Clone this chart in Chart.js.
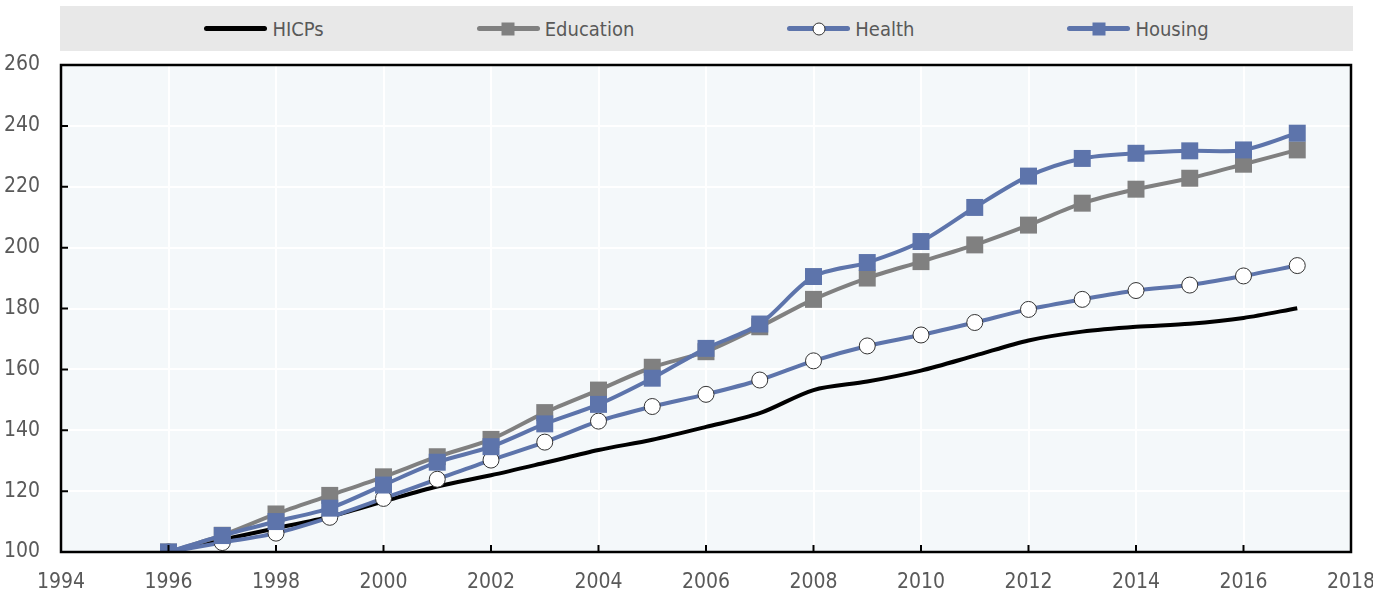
<!DOCTYPE html>
<html>
<head>
<meta charset="utf-8">
<script src="https://cdn.jsdelivr.net/npm/chart.js@4"></script>
<style>
  html, body { margin: 0; padding: 0; background: #fff; }
  #wrap { position: relative; width: 1373px; height: 599px; }
  #chart { position: absolute; left: 0; top: 0; }
  #legend {
    position: absolute; left: 60px; top: 6px; width: 1293px; height: 45px;
    background: #e8e8e8; display: flex; align-items: center; justify-content: center; gap: 153px;
    font-family: 'Liberation Sans Narrow', 'Arial Narrow', 'DejaVu Sans Condensed', sans-serif;
    font-size: 20px; color: #595959;
  }
  .item { display: flex; align-items: center; }
  .swatch { position: relative; width: 63px; height: 20px; margin-right: 5px; }
  .swatch .ln { position: absolute; left: 0; right: 0; top: 7px; height: 5px; border-radius: 3px; }
  .swatch .mk { position: absolute; left: 50%; top: 50%; transform: translate(-50%, -50%); }
</style>
</head>
<body>
<div id="wrap">
  <canvas id="chart" width="1373" height="599"></canvas>
  <div id="legend"></div>
</div>
<script>
// data
const years = [1996, 1997, 1998, 1999, 2000, 2001, 2002, 2003, 2004, 2005, 2006,
               2007, 2008, 2009, 2010, 2011, 2012, 2013, 2014, 2015, 2016, 2017];
const hicps = [100, 104, 107.8, 111.6, 116.6, 121.5, 125.2, 129.3, 133.5, 136.9, 141.1,
               145.6, 153.2, 156, 159.6, 164.5, 169.5, 172.4, 174, 175, 176.9, 180.1];
const education = [100, 105.5, 112.5, 118.6, 124.7, 131.3, 137, 145.8, 153.2, 160.7, 165.8,
                   174, 183, 190, 195.4, 200.9, 207.4, 214.6, 219.2, 222.8, 227.4, 232.1];
const health = [100, 103.1, 106.2, 111.4, 117.6, 123.9, 130.2, 136.1, 143, 147.8, 151.8,
                156.5, 162.8, 167.7, 171.3, 175.4, 179.7, 183, 185.9, 187.7, 190.7, 194.1];
const housing = [100, 105.4, 110, 114.4, 122, 129.5, 134.6, 142.1, 148.5, 157.1, 166.9,
                 174.9, 190.5, 195.1, 202, 213.2, 223.5, 229.3, 231, 231.8, 232.1, 237.6];
const seriesNames = ['HICPs', 'Education', 'Health', 'Housing'];

const FONT = "'Liberation Sans Narrow', 'Arial Narrow', 'DejaVu Sans Condensed', sans-serif";
const GREY = '#808080';
const BLUE = '#5d74ab';

function pts(values) {
    return years.map((y, i) => ({ x: y, y: values[i] }));
}

const datasets = [
    { label: seriesNames[0], data: pts(hicps), borderColor: '#000', borderWidth: 4,
      pointRadius: 0, order: 4, marker: null },
    { label: seriesNames[1], data: pts(education), borderColor: GREY, borderWidth: 4,
      pointStyle: 'rect', pointRadius: 12, pointBackgroundColor: GREY, pointBorderWidth: 0,
      order: 3, marker: 'square' },
    { label: seriesNames[2], data: pts(health), borderColor: BLUE, borderWidth: 4,
      pointStyle: 'circle', pointRadius: 8, pointBackgroundColor: '#fff',
      pointBorderColor: '#333', pointBorderWidth: 1, order: 2, marker: 'circle' },
    { label: seriesNames[3], data: pts(housing), borderColor: BLUE, borderWidth: 4,
      pointStyle: 'rect', pointRadius: 12, pointBackgroundColor: BLUE, pointBorderWidth: 0,
      order: 1, marker: 'square' }
];

// html legend in the grey band
const legendEl = document.getElementById('legend');
datasets.forEach(ds => {
    const item = document.createElement('div');
    item.className = 'item';
    let mk = '';
    if (ds.marker === 'square') {
        mk = `<span class="mk" style="width:13px;height:13px;background:${ds.pointBackgroundColor}"></span>`;
    } else if (ds.marker === 'circle') {
        mk = `<span class="mk" style="width:11px;height:11px;border-radius:50%;background:#fff;border:1px solid #333"></span>`;
    }
    item.innerHTML = `<span class="swatch"><span class="ln" style="background:${ds.borderColor}"></span>${mk}</span><span>${ds.label}</span>`;
    legendEl.appendChild(item);
});

// plot background, frame and inward tick marks
const framePlugin = {
    id: 'frame',
    beforeDraw(chart) {
        const { ctx, chartArea: a } = chart;
        ctx.save();
        ctx.fillStyle = '#f4f8fa';
        ctx.fillRect(a.left, a.top, a.right - a.left, a.bottom - a.top);
        ctx.restore();
    },
    afterDatasetsDraw(chart) {
        const { ctx, chartArea: a, scales } = chart;
        ctx.save();
        ctx.strokeStyle = '#000';
        ctx.lineWidth = 2;
        ctx.beginPath();
        scales.y.ticks.forEach(t => {
            const py = scales.y.getPixelForValue(t.value);
            ctx.moveTo(a.left, py);
            ctx.lineTo(a.left + 7, py);
        });
        scales.x.ticks.forEach(t => {
            const px = scales.x.getPixelForValue(t.value);
            ctx.moveTo(px, a.bottom);
            ctx.lineTo(px, a.bottom - 7);
        });
        ctx.stroke();
        ctx.lineWidth = 2.5;
        ctx.strokeRect(a.left, a.top, a.right - a.left, a.bottom - a.top);
        ctx.restore();
    }
};

new Chart(document.getElementById('chart').getContext('2d'), {
    type: 'line',
    data: { datasets: datasets },
    options: {
        responsive: false,
        animation: false,
        layout: { padding: { top: 65, right: 22, left: 0, bottom: 0 } },
        elements: { line: { tension: 0.3 } },
        plugins: { legend: { display: false }, tooltip: { enabled: false } },
        scales: {
            x: {
                type: 'linear', min: 1994, max: 2018,
                grid: { color: '#fff', lineWidth: 2, drawTicks: false },
                border: { display: false },
                ticks: { stepSize: 2, padding: 18, color: '#595959', maxRotation: 0,
                         font: { family: FONT, size: 21 }, callback: v => String(v) },
                afterFit(scale) {
                    scale.height = 47;
                    scale.paddingLeft = 0;
                    scale.paddingRight = 0;
                }
            },
            y: {
                min: 100, max: 260,
                grid: { color: '#fff', lineWidth: 2, drawTicks: false },
                border: { display: false },
                ticks: { stepSize: 20, padding: 21, color: '#595959',
                         font: { family: FONT, size: 21 } },
                afterFit(scale) { scale.width = 61; }
            }
        }
    },
    plugins: [framePlugin]
});
</script>
</body>
</html>
